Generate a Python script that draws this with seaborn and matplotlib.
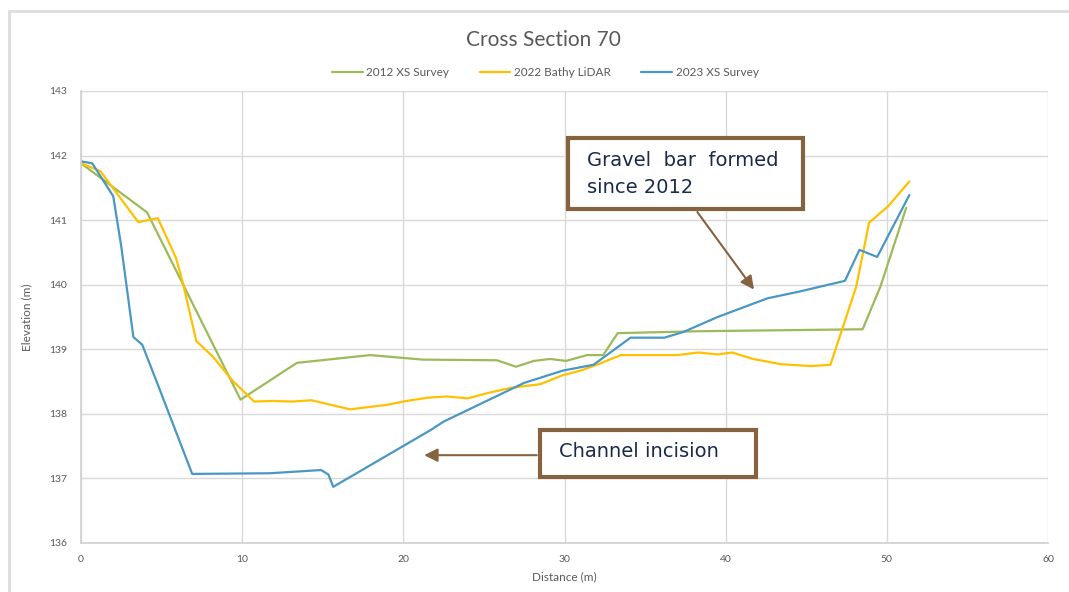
import matplotlib
matplotlib.use('Agg')
import matplotlib.pyplot as plt
from matplotlib.lines import Line2D
from matplotlib.patches import Rectangle
import seaborn as sns
import pandas as pd

### Data ###
SERIES = ["2012 XS Survey", "2022 Bathy LiDAR", "2023 XS Survey"]
COLORS = ["#9BBB59", "#FFC000", "#4A97C4"]

x_2012 = [0.0, 4.1, 9.9, 13.4, 17.95, 21.2, 25.8, 27.0, 28.1, 29.1, 30.1, 31.4, 32.4,
          33.3, 38.4, 48.5, 49.6, 51.2]
y_2012 = [141.88, 141.12, 138.22, 138.79, 138.91, 138.84, 138.83, 138.73, 138.82, 138.85,
          138.82, 138.91, 138.91, 139.25, 139.28, 139.31, 139.97, 141.19]

x_2022 = [0.0, 1.2, 3.55, 4.77, 5.9, 6.35, 7.15, 8.2, 9.45, 10.75, 11.9, 13.1, 14.3, 16.7,
          19.0, 20.2, 21.5, 22.7, 24.0, 25.2, 26.6, 28.5, 29.9, 31.0, 32.0, 33.5, 37.0, 38.3,
          39.5, 40.4, 41.7, 43.4, 45.3, 46.5, 48.1, 48.9, 50.1, 51.4]
y_2022 = [141.88, 141.76, 140.97, 141.03, 140.41, 140.0, 139.13, 138.88, 138.5, 138.19,
          138.2, 138.19, 138.21, 138.07, 138.14, 138.2, 138.25, 138.27, 138.24, 138.32, 138.4,
          138.46, 138.6, 138.67, 138.76, 138.91, 138.91, 138.95, 138.92, 138.95, 138.85,
          138.77, 138.74, 138.76, 139.97, 140.96, 141.22, 141.6]

x_2023 = [0.0, 0.7, 2.0, 2.5, 3.25, 3.8, 4.6, 6.9, 11.7, 14.9, 15.35, 15.65, 21.7, 22.5,
          27.5, 29.9, 31.8, 34.1, 36.2, 37.4, 39.5, 42.6, 44.5, 47.4, 48.3, 49.4, 51.4]
y_2023 = [141.91, 141.88, 141.37, 140.59, 139.19, 139.07, 138.56, 137.07, 137.08, 137.13,
          137.06, 136.87, 137.75, 137.88, 138.48, 138.67, 138.76, 139.18, 139.18, 139.27,
          139.5, 139.79, 139.89, 140.06, 140.54, 140.43, 141.39]

df = pd.concat([
    pd.DataFrame({"Distance": x_2012, "Elevation": y_2012, "Series": SERIES[0]}),
    pd.DataFrame({"Distance": x_2022, "Elevation": y_2022, "Series": SERIES[1]}),
    pd.DataFrame({"Distance": x_2023, "Elevation": y_2023, "Series": SERIES[2]}),
], ignore_index=True)

sns.set_style("white")
plt.rcParams['font.family'] = ['Lato', 'DejaVu Sans']

GRAY = "#595959"
BROWN = "#86633F"
NAVY = "#1B2A4A"
BOX_FONT = ["DejaVu Sans"]

fig = plt.figure(figsize=(10.69, 5.92), dpi=100)
ax = fig.add_axes([81 / 1069, 1 - 543 / 592, (1048 - 81) / 1069, (543 - 91) / 592])

sns.lineplot(data=df, x="Distance", y="Elevation", hue="Series", hue_order=SERIES,
             palette=COLORS, sort=False, estimator=None, linewidth=1.6, ax=ax, legend=False)

# Formatting.
ax.set_xlim(0, 60)
ax.set_ylim(136, 143)
ax.set_xticks(range(0, 61, 10))
ax.set_yticks(range(136, 144))
ax.grid(True, color="#D9D9D9", linewidth=1.0)
ax.set_axisbelow(True)
for side in ["top", "right"]:
    ax.spines[side].set_visible(False)
for side in ["left", "bottom"]:
    ax.spines[side].set_color("#D0D0D0")
    ax.spines[side].set_linewidth(1.2)
ax.tick_params(axis="both", length=0, labelsize=7.5, labelcolor=GRAY)
ax.tick_params(axis="y", pad=10)
ax.tick_params(axis="x", pad=9)
ax.set_xlabel("Distance (m)", fontsize=8.5, color=GRAY, labelpad=5)
ax.set_ylabel("Elevation (m)", fontsize=8.5, color=GRAY, labelpad=12)

fig.text(0.508, 0.932, "Cross Section 70", ha="center", va="center", fontsize=15, color=GRAY)

handles = [Line2D([], [], color=c, lw=1.6) for c in COLORS]
fig.legend(handles, SERIES, loc="center", bbox_to_anchor=(0.510, 0.877), ncol=3,
           frameon=False, fontsize=8.5, labelcolor=GRAY, handlelength=2.6,
           handletextpad=0.3, columnspacing=2.6)

# Annotation boxes.
ax.add_patch(Rectangle((30.19, 141.17), 44.78 - 30.19, 142.27 - 141.17, fc="white",
                       ec=BROWN, lw=3, zorder=5, clip_on=False))
ax.text(31.37, 141.93, "Gravel  bar  formed", fontsize=14, color=NAVY, va="center",
        ha="left", zorder=6, family=BOX_FONT)
ax.text(31.37, 141.5, "since 2012", fontsize=14, color=NAVY, va="center",
        ha="left", zorder=6, family=BOX_FONT)
ax.annotate("", xy=(41.86, 139.89), xytext=(38.14, 141.16),
            arrowprops=dict(arrowstyle="-|>", color=BROWN, lw=1.5, mutation_scale=20),
            zorder=4)

ax.add_patch(Rectangle((28.45, 137.02), 41.86 - 28.45, 137.75 - 137.02, fc="white",
                       ec=BROWN, lw=3, zorder=5, clip_on=False))
ax.text(29.63, 137.42, "Channel incision", fontsize=14, color=NAVY, va="center",
        ha="left", zorder=6, family=BOX_FONT)
ax.annotate("", xy=(21.12, 137.36), xytext=(28.45, 137.36),
            arrowprops=dict(arrowstyle="-|>", color=BROWN, lw=1.5, mutation_scale=20),
            zorder=4)

# Outer chart frame.
fig.add_artist(Line2D([9 / 1069, 9 / 1069], [0, 1 - 11 / 592], color="#DDDDDD", lw=2))
fig.add_artist(Line2D([9 / 1069, 1], [1 - 11 / 592, 1 - 11 / 592], color="#DDDDDD", lw=2))

plt.savefig("out.png", dpi=100)
plt.close()
